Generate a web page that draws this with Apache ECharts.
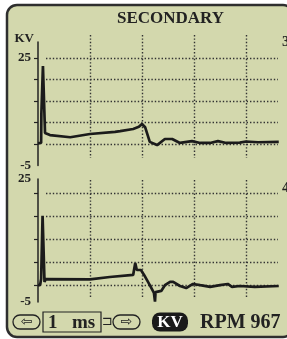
<!DOCTYPE html>
<html>
<head>
<meta charset="utf-8">
<script src="https://cdn.jsdelivr.net/npm/echarts@6/dist/echarts.min.js"></script>
<style>
html,body{margin:0;padding:0;background:#fff;}
#main{width:287px;height:339px;}
</style>
</head>
<body>
<div id="main"></div>
<script>
// secondary ignition traces, time in ms, voltage in kV
var cyl3Time = [0, 0.06, 0.065, 0.085, 0.095, 0.118, 0.135, 0.23, 0.62, 1.0, 1.48, 1.58, 1.83, 1.94, 2.0, 2.06, 2.15, 2.29, 2.44, 2.58, 2.73, 2.96, 3.12, 3.31, 3.46, 3.62, 3.88, 4.0, 4.23, 4.63];
var cyl3Kv   = [1.2, 1.3, 9.6, 9.6, 22.8, 22.8, 4.1, 3.5, 2.9, 3.8, 4.4, 4.6, 5.2, 5.8, 6.6, 5.7, 1.6, 0.7, 2.4, 2.4, 1.3, 1.8, 1.3, 1.3, 1.8, 1.3, 1.4, 1.7, 1.5, 1.6];
var cyl4Time = [0, 0.04, 0.06, 0.08, 0.088, 0.115, 0.125, 0.15, 1.0, 1.38, 1.83, 1.87, 1.9, 1.98, 2.04, 2.15, 2.23, 2.25, 2.26, 2.37, 2.44, 2.54, 2.6, 2.73, 2.85, 2.98, 3.12, 3.31, 3.5, 3.65, 3.73, 3.88, 4.17, 4.63];
var cyl4Kv   = [-0.9, -0.9, 0.6, 0.6, 16.0, 16.0, -0.1, 0.6, 0.5, 1.1, 1.6, 4.5, 2.8, 2.8, 1.6, -0.9, -2.8, -4.9, -2.6, -2.3, -0.9, -0.1, -0.1, -1.1, -1.6, -0.6, -0.9, -1.3, -0.9, -0.6, -1.3, -1.1, -1.3, -1.1];

var divMs = [1, 2, 3, 4];
var cyl3Div = [1, 7, 13, 19, 25];
var cyl4Div = [-0.9, 4.8, 10.4, 16, 21.6];
var kvLabels = [25, -5];
var cylNames = ['3', '4'];

var serif = '"Liberation Serif", "Times New Roman", serif';
var ink = '#222';
var dots = { color: '#333', width: 1.4, type: [1.4, 2] };

// layout in px
var axisX = 37, plotLeft = 46, plotRight = 278, zeroX = 38, msPx = 52;

function pairs(t, v) {
    return t.map(function (x, i) { return [x, v[i]]; });
}
function toMs(px) { return (px - zeroX) / msPx; }

var panels = [
    { axisTop: 42, axisH: 123.5, min: -5, max: 29.5, plotTop: 35, plotH: 123, div: cyl3Div, data: pairs(cyl3Time, cyl3Kv), nameY: 42 },
    { axisTop: 179, axisH: 123, min: -5, max: 25, plotTop: 180, plotH: 117, div: cyl4Div, data: pairs(cyl4Time, cyl4Kv), nameY: 188 }
];

var grid = [], xAxis = [], yAxis = [], series = [], graphic = [];

graphic.push({
    type: 'rect', z: -10,
    shape: { x: 7, y: 5, width: 286, height: 332, r: 10 },
    style: { fill: '#d3d8ad', stroke: '#2e2e2e', lineWidth: 2.5 }
});

panels.forEach(function (p, i) {
    var k = p.axisH / (p.max - p.min);
    var pMax = p.max - (p.plotTop - p.axisTop) / k;
    var pMin = pMax - p.plotH / k;

    // dotted divisions only
    grid.push({ left: plotLeft, top: p.plotTop, width: plotRight - plotLeft, height: p.plotH });
    xAxis.push({
        gridIndex: 2 * i, type: 'value', min: toMs(plotLeft), max: toMs(plotRight),
        axisLine: { show: false }, axisLabel: { show: false },
        axisTick: { show: false, customValues: divMs },
        splitLine: { show: true, lineStyle: dots }
    });
    yAxis.push({
        gridIndex: 2 * i, type: 'value', min: pMin, max: pMax,
        axisLine: { show: false }, axisLabel: { show: false },
        axisTick: { show: false, customValues: p.div },
        splitLine: { show: true, lineStyle: dots }
    });

    // kV axis and trace
    grid.push({ left: axisX, top: p.axisTop, width: plotRight - axisX, height: p.axisH });
    xAxis.push({ gridIndex: 2 * i + 1, type: 'value', min: toMs(axisX), max: toMs(plotRight), show: false });
    yAxis.push({
        gridIndex: 2 * i + 1, type: 'value', min: p.min, max: p.max,
        name: i === 0 ? 'KV' : '', nameGap: 3,
        nameTextStyle: { align: 'right', verticalAlign: 'middle', padding: [0, 4, 0, 0],
            fontFamily: serif, fontWeight: 'bold', fontSize: 13, color: ink },
        axisLine: { show: true, lineStyle: { color: ink, width: 1.5 } },
        axisTick: { show: true, length: 4, customValues: p.div, lineStyle: { color: ink, width: 1.2 } },
        axisLabel: { show: true, customValues: kvLabels, margin: 6,
            fontFamily: serif, fontWeight: 'bold', fontSize: 13, color: ink },
        splitLine: { show: false }
    });

    series.push({
        type: 'line', xAxisIndex: 2 * i + 1, yAxisIndex: 2 * i + 1,
        data: p.data, symbol: 'none', clip: false, silent: true,
        lineStyle: { color: '#1b1b1b', width: 2.7 }
    });

    graphic.push({ type: 'text', x: 282, y: p.nameY,
        style: { text: cylNames[i], font: 'bold 15px ' + serif, fill: ink, verticalAlign: 'middle' } });
});

// bottom status row
var rowY = 322;
graphic.push(
    { type: 'rect', shape: { x: 13, y: rowY - 7, width: 27, height: 14, r: 7 }, style: { fill: 'none', stroke: ink, lineWidth: 1.3 } },
    { type: 'text', x: 26.5, y: rowY, style: { text: '\u21e6', font: '14px "DejaVu Sans"', fill: ink, align: 'center', verticalAlign: 'middle' } },
    { type: 'rect', shape: { x: 43, y: rowY - 10, width: 58, height: 20 }, style: { fill: 'none', stroke: ink, lineWidth: 1.2 } },
    { type: 'text', x: 48, y: rowY + 1, style: { text: '1', font: 'bold 19px ' + serif, fill: ink, verticalAlign: 'middle' } },
    { type: 'text', x: 72, y: rowY + 1, style: { text: 'ms', font: 'bold 19px ' + serif, fill: ink, verticalAlign: 'middle' } },
    { type: 'text', x: 102, y: rowY, style: { text: '\u2290', font: '13px "DejaVu Sans"', fill: ink, verticalAlign: 'middle' } },
    { type: 'rect', shape: { x: 113, y: rowY - 7, width: 27, height: 14, r: 7 }, style: { fill: 'none', stroke: ink, lineWidth: 1.3 } },
    { type: 'text', x: 126.5, y: rowY, style: { text: '\u21e8', font: '14px "DejaVu Sans"', fill: ink, align: 'center', verticalAlign: 'middle' } },
    { type: 'rect', shape: { x: 152, y: rowY - 9.5, width: 36, height: 19, r: 8 }, style: { fill: '#1a1a1a' } },
    { type: 'text', x: 170, y: rowY + 0.5, style: { text: 'KV', font: 'bold 17px ' + serif, fill: '#fff', align: 'center', verticalAlign: 'middle' } },
    { type: 'text', x: 200, y: rowY + 1, style: { text: 'RPM 967', font: 'bold 20px ' + serif, fill: ink, verticalAlign: 'middle' } }
);

var myChart = echarts.init(document.getElementById('main'));
myChart.setOption({
    animation: false,
    backgroundColor: '#fff',
    title: {
        text: 'SECONDARY', left: 117, top: 10, padding: 0,
        textStyle: { fontFamily: serif, fontWeight: 'bold', fontSize: 17, color: ink }
    },
    grid: grid,
    xAxis: xAxis,
    yAxis: yAxis,
    series: series,
    graphic: graphic
});
</script>
</body>
</html>
